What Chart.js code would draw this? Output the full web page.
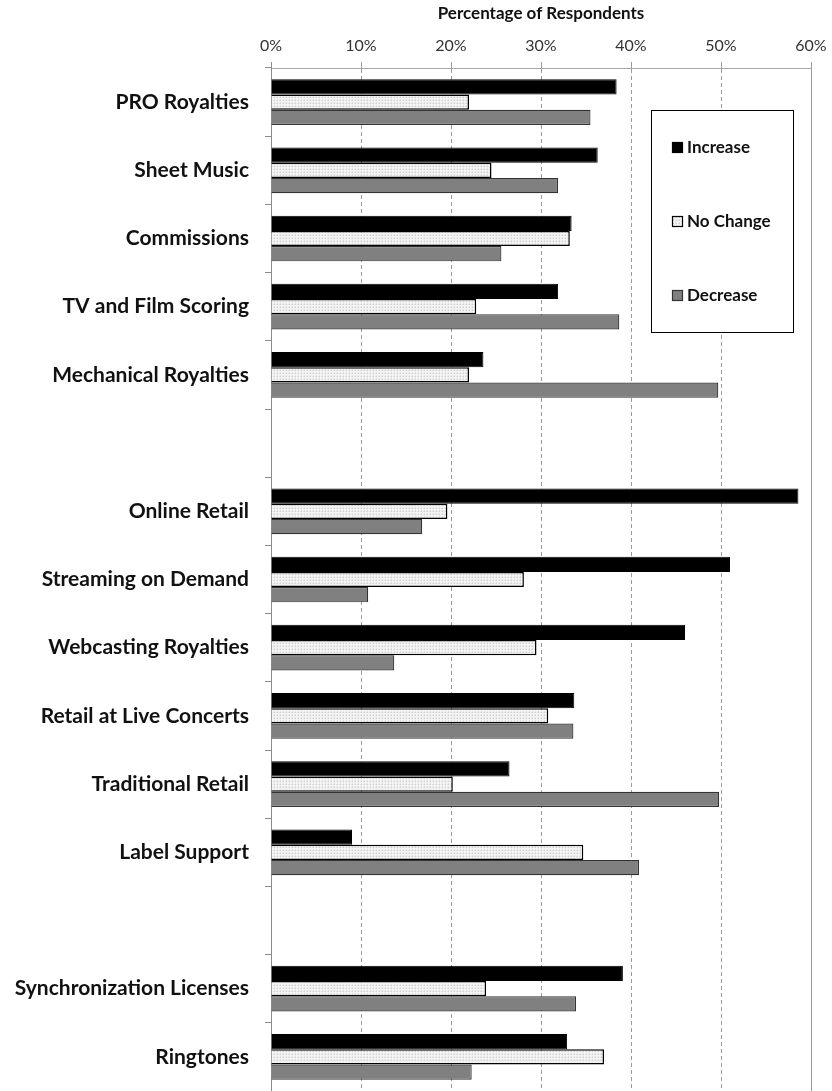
<!DOCTYPE html>
<html>
<head>
<meta charset="utf-8">
<script src="https://cdn.jsdelivr.net/npm/chart.js@4.4.0/dist/chart.umd.min.js"></script>
<style>
  html, body { margin: 0; padding: 0; background: #fff; }
  #wrap { width: 832px; height: 1091px; }
</style>
</head>
<body>
<div id="wrap"><canvas id="myChart" width="832" height="1091"></canvas></div>
<script>
var categories = ['PRO Royalties', 'Sheet Music', 'Commissions', 'TV and Film Scoring', 'Mechanical Royalties', '',
    'Online Retail', 'Streaming on Demand', 'Webcasting Royalties', 'Retail at Live Concerts', 'Traditional Retail', 'Label Support', '',
    'Synchronization Licenses', 'Ringtones'];
var increase = [38.4, 36.3, 33.4, 31.9, 23.6, null, 58.6, 51.0, 46.0, 33.7, 26.5, 9.0, null, 39.1, 32.9];
var noChange = [22.0, 24.5, 33.2, 22.8, 22.0, null, 19.6, 28.1, 29.5, 30.8, 20.2, 34.7, null, 23.9, 37.0];
var decrease = [35.5, 31.9, 25.6, 38.7, 49.7, null, 16.8, 10.8, 13.7, 33.6, 49.8, 40.9, null, 33.9, 22.3];
var xTicks = [0, 10, 20, 30, 40, 50, 60];

// stippled fill for "No Change"
function makeDots() {
    var c = document.createElement('canvas');
    c.width = 3; c.height = 3;
    var g = c.getContext('2d');
    g.fillStyle = '#f3f3f3';
    g.fillRect(0, 0, 3, 3);
    g.fillStyle = '#cfcfcf';
    g.fillRect(1, 1, 1, 1);
    g.fillStyle = '#e2e2e2';
    g.fillRect(0, 1, 1, 1);
    g.fillRect(1, 0, 1, 1);
    return g.createPattern(c, 'repeat');
}
var ctx = document.getElementById('myChart').getContext('2d');
var dots = makeDots();

var boxLegend = {
    id: 'boxLegend',
    afterDatasetsDraw: function (chart) {
        var c = chart.ctx;
        c.save();
        c.fillStyle = '#fff';
        c.strokeStyle = '#000';
        c.lineWidth = 1;
        c.fillRect(651, 110, 142, 222);
        c.strokeRect(651.5, 110.5, 142, 222);
        var rows = [147, 221, 295];
        c.font = 'bold 17px Lato';
        c.textBaseline = 'middle';
        c.textAlign = 'left';
        chart.data.datasets.forEach(function (ds, i) {
            var y = rows[i];
            c.fillStyle = ds.backgroundColor;
            c.fillRect(672, y - 5, 11, 11);
            c.strokeStyle = ds.borderColor;
            c.lineWidth = 1.2;
            c.strokeRect(672.5, y - 4.5, 10, 10);
            c.fillStyle = '#111';
            c.fillText(ds.label, 687, y + 1);
        });
        c.restore();
    }
};

var myChart = new Chart(ctx, {
    type: 'bar',
    data: {
        labels: categories,
        datasets: [{
            label: 'Increase',
            data: increase,
            backgroundColor: '#000000',
            borderColor: '#000000',
            borderWidth: 1
        }, {
            label: 'No Change',
            data: noChange,
            backgroundColor: dots,
            borderColor: '#000000',
            borderWidth: 1.5
        }, {
            label: 'Decrease',
            data: decrease,
            backgroundColor: '#808080',
            borderColor: '#333333',
            borderWidth: 1.2
        }]
    },
    options: {
        indexAxis: 'y',
        responsive: false,
        animation: false,
        categoryPercentage: 0.67,
        barPercentage: 1.0,
        layout: { padding: { left: 0, right: 21, top: 0, bottom: 0 } },
        plugins: {
            legend: { display: false },
            tooltip: { enabled: false }
        },
        scales: {
            x: {
                position: 'top',
                min: 0,
                max: 60,
                afterBuildTicks: function (scale) {
                    scale.ticks = xTicks.map(function (v) { return { value: v }; });
                },
                afterFit: function (scale) {
                    scale.height = 68;
                    scale.paddingLeft = 0;
                    scale.paddingRight = 0;
                },
                ticks: {
                    padding: 7,
                    color: '#333',
                    font: { family: 'Lato', size: 16 },
                    callback: function (v) { return v + '%'; }
                },
                grid: {
                    color: function (c) { return c.tick && c.tick.value === 0 ? '#8c8c8c' : '#9a9a9a'; },
                    lineWidth: 1,
                    tickLength: 6
                },
                border: {
                    display: true,
                    color: '#a6a6a6',
                    dash: function (c) { return (c.tick && (c.tick.value === 60 || c.tick.value === 0)) ? [] : [4, 3]; }
                },
                title: {
                    display: true,
                    text: 'Percentage of Respondents',
                    color: '#111',
                    font: { family: 'Lato', size: 17, weight: 'bold' },
                    padding: { top: 3, bottom: 1 }
                }
            },
            y: {
                afterFit: function (scale) {
                    scale.width = 271;
                    scale.paddingTop = 0;
                    scale.paddingBottom = 0;
                },
                ticks: {
                    padding: 16,
                    color: '#111',
                    font: { family: 'Lato', size: 21, weight: 'bold' }
                },
                grid: {
                    drawOnChartArea: false,
                    color: '#8c8c8c',
                    tickLength: 6
                },
                border: { display: true, color: '#8c8c8c' }
            }
        }
    },
    plugins: [boxLegend]
});
</script>
</body>
</html>
